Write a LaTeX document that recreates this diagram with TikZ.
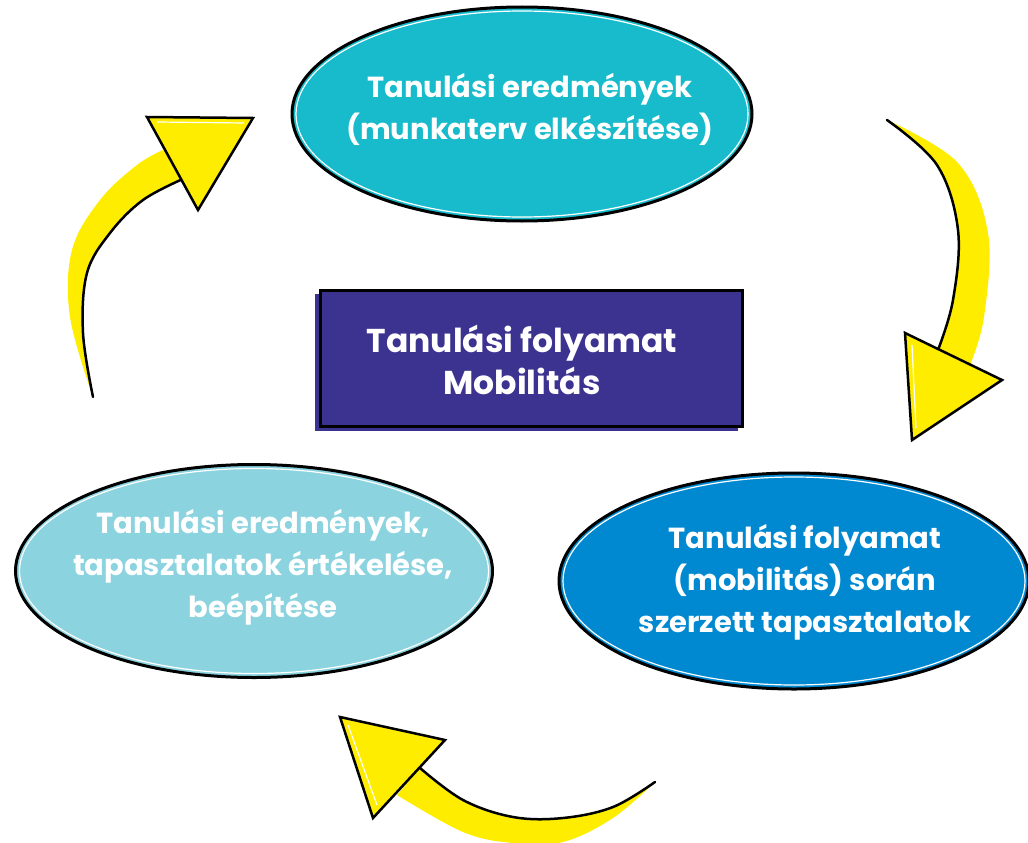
\documentclass[tikz,border=0pt]{standalone}
\usepackage{fontspec}
\setmainfont{Poppins}
\usetikzlibrary{shapes.geometric}
\definecolor{teal1}{HTML}{17BBCB}
\definecolor{light1}{HTML}{8BD3DF}
\definecolor{blue1}{HTML}{0088D0}
\definecolor{indigo1}{HTML}{3C3391}
\definecolor{yel}{HTML}{FFED00}
\tikzset{
  bubble/.style={ellipse, draw=black, line width=3pt, inner sep=0pt},
  btext/.style={text=white, align=center, font=\bfseries\fontsize{29}{42}\selectfont},
  title/.style={text=white, align=center, font=\bfseries\fontsize{33}{42}\selectfont},
  shaft/.style={fill=yel},
  edge/.style={draw=black, line width=2.5pt, line cap=round, line join=round},
  head/.style={fill=yel, draw=black, line width=2.5pt, line join=miter},
}
\begin{document}
\begin{tikzpicture}[x=1pt,y=-1pt]
\useasboundingbox (0,0) rectangle (1028,843);
% ellipses
\node[bubble, fill=teal1, minimum width=460pt, minimum height=214pt] (top) at (522,114) {};
\draw[white, line width=1.2pt] (522,114) ellipse (226pt and 103pt);
\node[btext] (toptxt) at (530,109) {Tanulási eredmények\\(munkaterv elkészítése)};

\node[bubble, fill=light1, minimum width=477pt, minimum height=213pt] (left) at (254,571) {};
\draw[white, line width=1.2pt] (254,571) ellipse (234.5pt and 102.5pt);
\node[btext] (lefttxt) at (263,567) {Tanulási eredmények,\\tapasztalatok értékelése,\\beépítése};

\node[bubble, fill=blue1, minimum width=470pt, minimum height=216pt] (right) at (794,581) {};
\draw[white, line width=1.2pt] (794,581) ellipse (231pt and 104pt);
\node[btext] (righttxt) at (805,582) {Tanulási folyamat\\(mobilitás) során\\szerzett tapasztalatok};

% central box
\fill[indigo1] (315,294) rectangle (738,431);
\filldraw[fill=indigo1, draw=black, line width=3pt] (320,290) rectangle (742,426);
\draw[white, line width=1.2pt] (744.5,292) -- (744.5,427);
\node[title] (center) at (522,360) {Tanulási folyamat\\Mobilitás};

% top-right arrow
\fill[shaft] plot[smooth, tension=0.6] coordinates {(887,120) (937,165) (958,230) (953,300) (938,350)}
  -- plot[smooth, tension=0.6] coordinates {(970,365) (984,317) (988,233) (958,163) (887,120)} -- cycle;
\draw[edge] plot[smooth, tension=0.6] coordinates {(887,120) (937,165) (958,230) (953,300) (938,350)};
\draw[head] (905,333) -- (1002,380) -- (912,440) -- cycle;
\draw[white, line width=1.2pt] (912,345) -- (916,428);
% left arrow
\fill[shaft] plot[smooth, tension=0.6] coordinates {(93,397) (83,333) (87,273) (110,233) (143,200) (185,178)}
  -- plot[smooth, tension=0.6] coordinates {(163,150) (137,165) (100,200) (72,250) (70,317) (93,397)} -- cycle;
\draw[edge] plot[smooth, tension=0.6] coordinates {(93,397) (83,333) (87,273) (110,233) (143,200) (185,178)};
\draw[head] (147,117) -- (253,118) -- (198,210) -- cycle;
\draw[white, line width=1.2pt] (157,122) -- (244,123);
% bottom arrow
\fill[shaft] plot[smooth, tension=0.6] coordinates {(655,782) (613,807) (563,818) (513,817) (463,800) (420,768)}
  -- plot[smooth, tension=0.6] coordinates {(397,795) (463,832) (513,843) (563,842) (613,818) (655,782)} -- cycle;
\draw[edge] plot[smooth, tension=0.6] coordinates {(655,782) (613,807) (563,818) (513,817) (463,800) (420,768)};
\draw[head] (340,717) -- (445,740) -- (373,818) -- cycle;
\draw[white, line width=1.2pt] (348,725) -- (377,805);
\end{tikzpicture}
\end{document}
